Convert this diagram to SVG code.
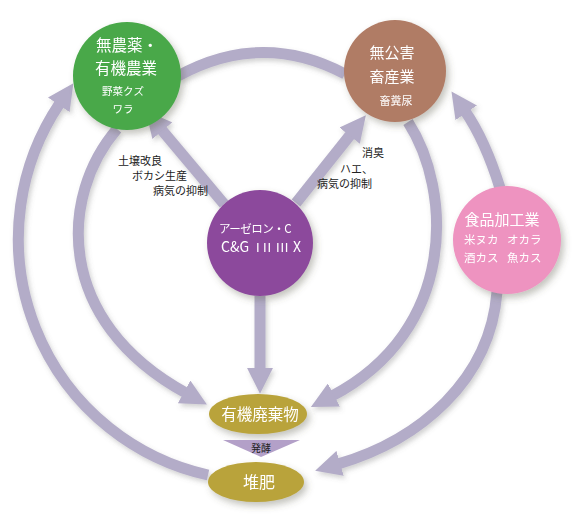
<svg xmlns="http://www.w3.org/2000/svg" width="580" height="520" viewBox="0 0 580 520">
<style>
.conn{fill:none;stroke:#b3acc8;stroke-width:11}
.t{font-family:"Noto Sans CJK JP","Noto Sans",sans-serif;fill:#fff}
.lbl{font-family:"Noto Sans CJK JP","Noto Sans",sans-serif;fill:#222;font-size:11px}
.rn{font-family:"Liberation Sans",sans-serif;font-size:13px}
</style>
<defs>
<filter id="sh" x="-30%" y="-30%" width="160%" height="160%">
<feDropShadow dx="3" dy="4" stdDeviation="3.5" flood-color="#554" flood-opacity="0.35"/>
</filter>
<filter id="sha" x="-20%" y="-20%" width="140%" height="140%">
<feDropShadow dx="2" dy="3" stdDeviation="2.5" flood-color="#666" flood-opacity="0.3"/>
</filter>
<marker id="ah" markerUnits="userSpaceOnUse" markerWidth="26" markerHeight="26" viewBox="0 0 24 24" refX="2" refY="12" orient="auto">
<path d="M0,0 L24,12 L0,24 z" fill="#b3acc8"/>
</marker>
</defs>
<rect width="580" height="520" fill="#fff"/>
<g id="connectors" filter="url(#sha)">
<path class="conn" d="M224,204 L161,129" marker-end="url(#ah)"/>
<path class="conn" d="M296,203 L351,134" marker-end="url(#ah)"/>
<path class="conn" d="M260,296 L260,370" marker-end="url(#ah)"/>
<path class="conn" d="M178,76 Q262,30 345,74"/>
<path class="conn" d="M117,129 C60,195 53,320 186,393" marker-end="url(#ah)"/>
<path class="conn" d="M408,122 C452,190 458,330 332,396" marker-end="url(#ah)"/>
<path class="conn" d="M497,292 C490,380 420,440 338,464" marker-end="url(#ah)"/>
<path class="conn" d="M500,188 Q485,140 465,111" marker-end="url(#ah)"/>
<path class="conn" d="M208,475 A242,242 0 0 1 60,103" marker-end="url(#ah)"/>
</g>
<g id="node-green" filter="url(#sh)">
<circle cx="127" cy="76" r="54" fill="#48a84a"/>
<text class="t" x="127" y="51" font-size="15.5" text-anchor="middle">無農薬・</text>
<text class="t" x="126" y="74" font-size="15.5" text-anchor="middle">有機農業</text>
<text class="t" x="123" y="95" font-size="10.5" text-anchor="middle">野菜クズ</text>
<text class="t" x="123" y="113" font-size="10.5" text-anchor="middle">ワラ</text>
</g>
<g id="node-brown" filter="url(#sh)">
<circle cx="395" cy="71" r="51" fill="#b07b65"/>
<text class="t" x="392" y="58" font-size="15" text-anchor="middle">無公害</text>
<text class="t" x="392" y="82" font-size="15" text-anchor="middle">畜産業</text>
<text class="t" x="396" y="105" font-size="11" text-anchor="middle">畜糞尿</text>
</g>
<g id="node-purple" filter="url(#sh)">
<circle cx="260" cy="243" r="53" fill="#8c4a9c"/>
<text class="t" x="255" y="233" font-size="11.5" text-anchor="middle" letter-spacing="-0.5">アーゼロン・C</text>
<text class="t" y="252" font-size="14"><tspan x="221">C&amp;G</tspan><tspan class="rn" x="256">I</tspan><tspan class="rn" x="263" letter-spacing="0.8">II</tspan><tspan class="rn" x="276" letter-spacing="0.8">III</tspan><tspan x="293">X</tspan></text>
</g>
<g id="node-pink" filter="url(#sh)">
<circle cx="507" cy="240" r="54" fill="#ee93c0"/>
<text class="t" x="502" y="225" font-size="15" text-anchor="middle">食品加工業</text>
<text class="t" x="464" y="244" font-size="11.5">米ヌカ</text>
<text class="t" x="507" y="244" font-size="11.5">オカラ</text>
<text class="t" x="464" y="262" font-size="11.5">酒カス</text>
<text class="t" x="507" y="262" font-size="11.5">魚カス</text>
</g>
<g id="node-waste" filter="url(#sh)">
<ellipse cx="258" cy="414" rx="49" ry="20" fill="#b9a33a"/>
<text class="t" x="260" y="420" font-size="15.5" text-anchor="middle">有機廃棄物</text>
</g>
<g id="node-ferment">
<path d="M223,440 L300,440 L261,457 z" fill="#b3a0c8"/>
<text class="lbl" x="261" y="452" text-anchor="middle" style="font-size:10px">発酵</text>
</g>
<g id="node-compost" filter="url(#sh)">
<ellipse cx="256" cy="482" rx="48" ry="20" fill="#b9a33a"/>
<text class="t" x="259" y="488" font-size="16" text-anchor="middle">堆肥</text>
</g>
<g id="labels">
<text class="lbl" x="118" y="165">土壌改良</text>
<text class="lbl" x="132" y="180">ボカシ生産</text>
<text class="lbl" x="153" y="195">病気の抑制</text>
<text class="lbl" x="362" y="157">消臭</text>
<text class="lbl" x="340" y="173">ハエ、</text>
<text class="lbl" x="317" y="188">病気の抑制</text>
</g>
</svg>
